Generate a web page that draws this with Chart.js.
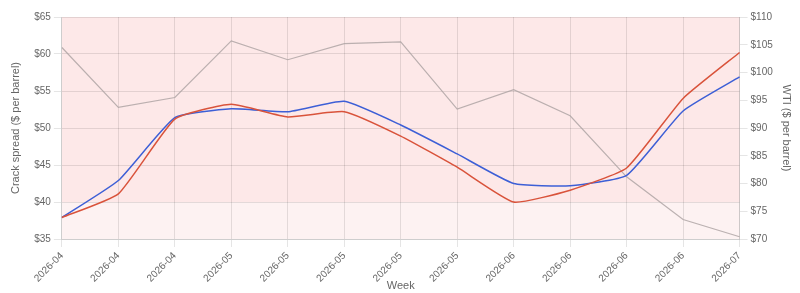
<html>
<head>
<meta charset="UTF-8">
<title>Crack spread vs WTI</title>
<script src="https://cdn.jsdelivr.net/npm/chart.js@4/dist/chart.umd.min.js"></script>
<style>
  body { margin: 0; background: #fff; }
  #wrap { width: 800px; height: 293px; }
</style>
</head>
<body>
<div id="wrap"><canvas id="chart1"></canvas></div>
<script>
var weeks = ["2026-04","2026-04","2026-04","2026-05","2026-05","2026-05","2026-05","2026-05","2026-06","2026-06","2026-06","2026-06","2026-07"];
var crackA = [37.9, 41.1, 51.2, 53.2, 51.5, 52.2, 48.9, 44.7, 40.0, 41.6, 44.6, 54.0, 60.2];
var crackB = [37.9, 42.9, 51.4, 52.6, 52.2, 53.6, 50.4, 46.5, 42.5, 42.2, 43.6, 52.3, 56.9];
var wti = [104.5, 93.7, 95.5, 105.7, 102.3, 105.2, 105.5, 93.4, 96.9, 92.2, 81.2, 73.5, 70.4];
// shaded bands on the left axis
var bandLow = [35, 40];
var bandHigh = [40, 65];

var bands = {
  id: 'bands',
  beforeDraw: function (chart) {
    var c = chart.ctx, a = chart.chartArea, y = chart.scales.y;
    c.save();
    c.fillStyle = '#fdf2f2';
    c.fillRect(a.left, y.getPixelForValue(bandLow[1]), a.right - a.left, y.getPixelForValue(bandLow[0]) - y.getPixelForValue(bandLow[1]));
    c.fillStyle = '#fde8e8';
    c.fillRect(a.left, y.getPixelForValue(bandHigh[1]), a.right - a.left, y.getPixelForValue(bandHigh[0]) - y.getPixelForValue(bandHigh[1]));
    c.restore();
  }
};

Chart.defaults.font.family = "'Liberation Sans', Arial, sans-serif";
Chart.defaults.font.size = 10;
Chart.defaults.color = '#666';

var myChart = new Chart(document.getElementById("chart1"), {
  type: 'line',
  data: {
    labels: weeks,
    datasets: [
      { label: "Crack A", data: crackA, yAxisID: 'y', borderColor: '#d9533b', borderWidth: 1.5, pointRadius: 0, fill: false, tension: 0.15 },
      { label: "Crack B", data: crackB, yAxisID: 'y', borderColor: '#3d5fd6', borderWidth: 1.5, pointRadius: 0, fill: false, tension: 0.15 },
      { label: "WTI", data: wti, yAxisID: 'y1', borderColor: 'rgba(170,160,160,0.8)', borderWidth: 1.2, pointRadius: 0, fill: false, tension: 0 }
    ]
  },
  options: {
    responsive: true,
    maintainAspectRatio: false,
    animation: false,
    layout: { padding: { top: 17, right: 3, left: 5, bottom: 0 } },
    plugins: { legend: { display: false }, tooltip: { enabled: false } },
    scales: {
      x: {
        title: { display: true, text: 'Week', font: { size: 11 }, padding: { top: 0, bottom: 0 } },
        ticks: { maxRotation: 45, minRotation: 45 },
        afterFit: function (s) { s.height = 54; }
      },
      y: {
        position: 'left',
        min: 35, max: 65,
        ticks: { stepSize: 5, callback: function (v) { return '$' + v; } },
        title: { display: true, text: 'Crack spread ($ per barrel)', font: { size: 11 }, padding: { top: 4, bottom: 9 } }
      },
      y1: {
        position: 'right',
        min: 70, max: 110,
        ticks: { stepSize: 5, callback: function (v) { return '$' + v; } },
        grid: { drawOnChartArea: false },
        title: { display: true, text: 'WTI ($ per barrel)', font: { size: 11 } }
      }
    }
  },
  plugins: [bands]
});
</script>
</body>
</html>
